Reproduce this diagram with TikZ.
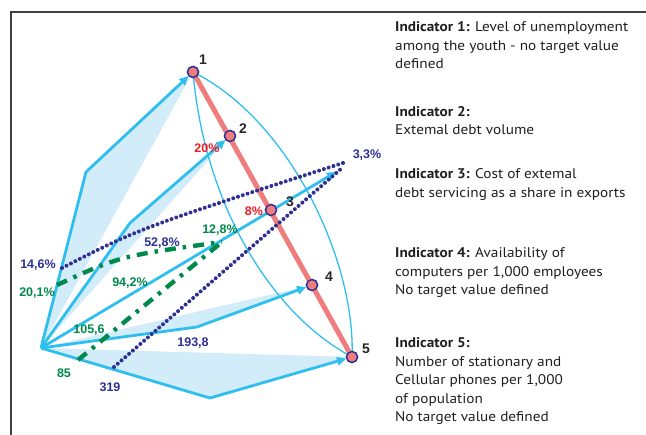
\documentclass[tikz,border=0pt]{standalone}
\usepackage{fontspec}
\setmainfont{PT Sans}[FakeStretch=1.09]
\newfontfamily\lblfont{Liberation Sans}
\usetikzlibrary{arrows.meta,decorations.markings}
\definecolor{armblue}{HTML}{2FBFEF}
\definecolor{fillblue}{HTML}{D3ECFA}
\definecolor{salmon}{HTML}{EF7D7D}
\definecolor{navy}{HTML}{2E3192}
\definecolor{dgreen}{HTML}{00894C}
\definecolor{lred}{HTML}{EE1C25}
\tikzset{
  arm/.style={draw=armblue, line width=2.8pt, line join=round, -{Triangle[length=9pt,width=8.5pt]}},
  wedge/.style={fill=fillblue, draw=none},
  thincurve/.style={draw=armblue, line width=1.3pt},
  redline/.style={draw=salmon, line width=5pt},
  dotline/.style={postaction={decorate}, decoration={markings,
      mark=between positions 0 and 1 step 5pt with {\fill[navy] (0,0) circle (2pt);}}},
  dashdot/.style={draw=dgreen, line width=4.4pt, line cap=butt, dash pattern=on 11pt off 7pt on 3.5pt off 7pt},
  pt/.style={circle, fill=salmon, draw=navy, line width=1.4pt, minimum size=11pt, inner sep=0pt},
  num/.style={font=\lblfont\bfseries\fontsize{14}{16}\selectfont, text=black!85},
  lbl/.style={font=\lblfont\bfseries\fontsize{12.5}{14}\selectfont, inner sep=0pt},
  desc/.style={font=\fontsize{14}{18}\selectfont, anchor=base west, inner sep=0pt, text=black!88}
}
\begin{document}
\begin{tikzpicture}[x=1pt,y=-1pt]
\useasboundingbox (0,0) rectangle (646,435);
% frame
\draw[black!75, line width=1.3pt] (11,435) -- (11,12) -- (646,12);
% coordinates
\coordinate (O) at (41,348);
\coordinate (b1) at (86,172);
\coordinate (b2) at (130,223);
\coordinate (b4) at (197,327);
\coordinate (b5) at (210,398);
\coordinate (a3) at (336,172);
\node[pt] (p1) at (193,72) {};
\node[pt] (p2) at (230,136) {};
\node[pt] (p3) at (271,210) {};
\node[pt] (p4) at (312,285) {};
\node[pt] (p5) at (352,357) {};
% wedges
\fill[wedge] (O) -- (b1) -- (p1.center) -- cycle;
\fill[wedge] (O) -- (b2) -- (p2.center) -- cycle;
\fill[wedge] (O) -- (b4) -- (p4.center) -- cycle;
\fill[wedge] (O) -- (b5) -- (p5.center) -- cycle;
% red line
\draw[redline] (p1.center) -- (p5.center);
% thin curves
\draw[thincurve] (p1.center) .. controls (290,120) and (356,262) .. (p5.center);
\draw[thincurve] (p1.center) .. controls (204,200) and (268,312) .. (p5.center);
% arms
\draw[arm] (O) -- (b1) -- (p1);
\draw[arm] (O) -- (b2) -- (p2);
\draw[arm] (O) -- (a3);
\draw[arm] (O) -- (b4) -- (p4);
\draw[arm] (O) -- (b5) -- (p5);
% dotted navy lines
\coordinate (d1s) at (62,268);
\coordinate (d1e) at (346,162);
\coordinate (d2s) at (114,367);
\coordinate (d2e) at (342,168);
\path[dotline] (d1s) .. controls (140,228) .. (d1e);
\path[dotline] (d2s) -- (d2e);
% green dash-dot lines
\coordinate (g1s) at (57,285);
\coordinate (g2s) at (78,360);
\coordinate (ge) at (222,242);
\draw[dashdot] (g1s) .. controls (120,256) .. (ge);
\draw[dashdot] (g2s) -- (ge);
% points on top
\foreach \n in {p1,p2,p3,p4,p5} \node[pt] at (\n) {};
% point numbers
\node[num] (n1) at (203,60) {1};
\node[num] (n2) at (243,129) {2};
\node[num] (n3) at (290,202) {3};
\node[num] (n4) at (329,277) {4};
\node[num] (n5) at (366,349) {5};
% value labels
\node[lbl, text=lred] (l20) at (207,148) {20\%};
\node[lbl, text=lred] (l8) at (254,211) {8\%};
\node[lbl, text=navy] (l33) at (367,155) {3,3\%};
\node[lbl, text=navy] (l146) at (38,265) {14,6\%};
\node[lbl, text=dgreen] (l201) at (37,293) {20,1\%};
\node[lbl, text=navy] (l528) at (162,243) {52,8\%};
\node[lbl, text=dgreen] (l128) at (220,230) {12,8\%};
\node[lbl, text=dgreen] (l942) at (130,283) {94,2\%};
\node[lbl, text=dgreen] (l1056) at (89,330) {105,6};
\node[lbl, text=navy] (l1938) at (193,343) {193,8};
\node[lbl, text=dgreen] (l85) at (64,373) {85};
\node[lbl, text=navy] (l319) at (110,387) {319};
% descriptions
\node[desc] (t1a) at (395,32) {\textbf{Indicator 1:} Level of unemployment};
\node[desc] (t1b) at (395,50.4) {among the youth - no target value};
\node[desc] (t1c) at (395,68.8) {defined};
\node[desc] (t2a) at (395,116.5) {\textbf{Indicator 2:}};
\node[desc] (t2b) at (395,135) {Extemal debt volume};
\node[desc] (t3a) at (395,179) {\textbf{Indicator 3:} Cost of extemal};
\node[desc] (t3b) at (395,197.4) {debt servicing as a share in exports};
\node[desc] (t4a) at (395,258) {\textbf{Indicator 4:} Availability of};
\node[desc] (t4b) at (395,276.4) {computers per 1,000 employees};
\node[desc] (t4c) at (395,294.8) {No target value defined};
\node[desc] (t5a) at (395,348) {\textbf{Indicator 5:}};
\node[desc] (t5b) at (395,366.5) {Number of stationary and};
\node[desc] (t5c) at (395,385) {Cellular phones per 1,000};
\node[desc] (t5d) at (395,403.5) {of population};
\node[desc] (t5e) at (395,422) {No target value defined};
\end{tikzpicture}
\end{document}
